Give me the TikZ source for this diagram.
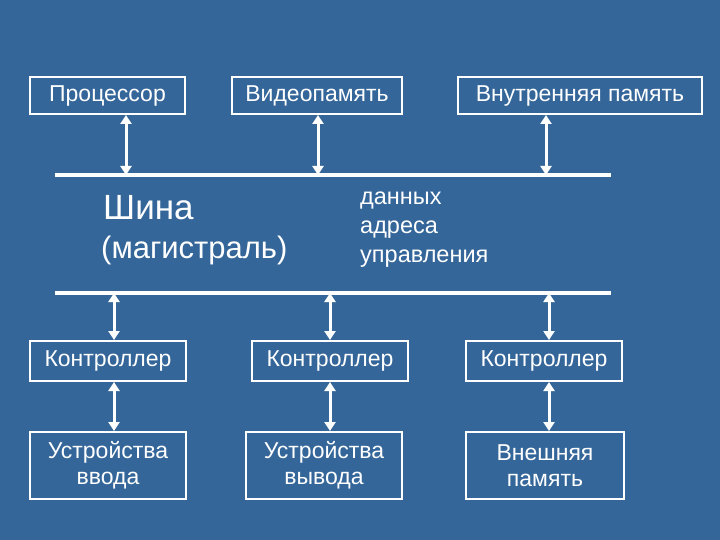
\documentclass[tikz,border=0pt]{standalone}
\usepackage{fontspec}
\setmainfont{Liberation Sans}
\usetikzlibrary{arrows.meta}
\definecolor{bg}{RGB}{52,102,153}
\begin{document}
\begin{tikzpicture}[x=1pt,y=-1pt,
  box/.style={draw=white,line width=2pt,text=white,font=\fontsize{23}{26}\selectfont,align=center,inner sep=0pt},
  link/.style={white,line width=3pt,{Triangle[width=11pt,length=9pt]}-{Triangle[width=11pt,length=9pt]}},
  bus/.style={white,line width=3.5pt},
  lbl/.style={text=white,anchor=west,inner sep=0pt}]
\fill[bg] (0,0) rectangle (720,540);
\useasboundingbox (0,0) rectangle (720,540);
\node[box,minimum width=155pt,minimum height=37pt] (p) at (107.5,95.5) {Процессор};
\node[box,minimum width=170pt,minimum height=37pt] (v) at (317,95.5) {Видеопамять};
\node[box,minimum width=244pt,minimum height=37pt] (m) at (580,95.5) {Внутренняя память};
\coordinate (t1) at (55,175); \coordinate (t2) at (611,175);
\coordinate (b1) at (55,293); \coordinate (b2) at (611,293);
\draw[bus] (t1) -- (t2);
\draw[bus] (b1) -- (b2);
\coordinate (pa) at (126,175); \coordinate (va) at (318,175); \coordinate (ma) at (546,175);
\draw[link] (p.south -| pa) -- (pa);
\draw[link] (v.south -| va) -- (va);
\draw[link] (m.south -| ma) -- (ma);
\node[lbl,font=\fontsize{35}{40}\selectfont] (sh) at (103,208) {Шина};
\node[lbl,font=\fontsize{31}{36}\selectfont] (mg) at (101,250) {(магистраль)};
\node[lbl,font=\fontsize{23.5}{29}\selectfont,align=left,anchor=north west] (d) at (360,192) {данных\\адреса\\управления};
\node[box,minimum width=156pt,minimum height=40pt] (c1) at (108,361) {Контроллер};
\node[box,minimum width=156pt,minimum height=40pt] (c2) at (330,361) {Контроллер};
\node[box,minimum width=156pt,minimum height=40pt] (c3) at (544,361) {Контроллер};
\node[box,minimum width=156pt,minimum height=67pt] (d1) at (108,465.5) {Устройства\\ввода};
\node[box,minimum width=156pt,minimum height=67pt] (d2) at (324,465.5) {Устройства\\вывода};
\node[box,minimum width=158pt,minimum height=67pt] (d3) at (545,465.5) {Внешняя\\память};
\coordinate (x1) at (114,293); \coordinate (x2) at (330,293); \coordinate (x3) at (549,293);
\draw[link] (x1) -- (x1 |- c1.north);
\draw[link] (x2) -- (x2 |- c2.north);
\draw[link] (x3) -- (x3 |- c3.north);
\draw[link] (x1 |- c1.south) -- (x1 |- d1.north);
\draw[link] (x2 |- c2.south) -- (x2 |- d2.north);
\draw[link] (x3 |- c3.south) -- (x3 |- d3.north);
\end{tikzpicture}
\end{document}
